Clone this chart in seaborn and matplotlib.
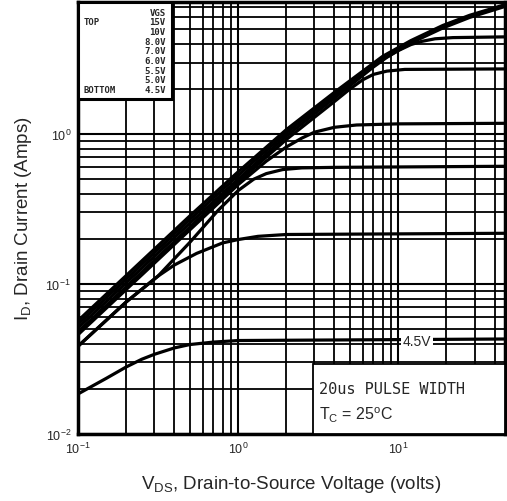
import matplotlib
matplotlib.use('Agg')
import matplotlib.pyplot as plt
import matplotlib.ticker as mticker
from matplotlib.patches import Rectangle
import seaborn as sns

# VGS curves (x = VDS volts, y = ID amps)
vgs_labels = ['15V', '10V', '8.0V', '7.0V', '6.0V', '5.5V', '5.0V', '4.5V']

vds_15 = [0.1, 0.2, 0.5, 1.0, 2.0, 4.0, 8.0, 12.0, 19.0, 28.0, 46.5]
id_15 = [0.057, 0.114, 0.285, 0.56, 1.07, 1.9, 3.3, 4.2, 5.3, 6.2, 7.3]

vds_10 = [0.1, 0.2, 0.5, 1.0, 2.0, 4.0, 8.0, 12.0, 19.0, 28.0, 46.5]
id_10 = [0.054, 0.108, 0.27, 0.53, 1.02, 1.82, 3.15, 4.05, 5.1, 6.0, 7.1]

vds_8 = [0.1, 0.2, 0.5, 1.0, 2.0, 4.0, 7.0, 8.5, 10.0, 12.0, 14.0, 17.0, 22.0, 46.5]
id_8 = [0.051, 0.102, 0.255, 0.5, 0.97, 1.74, 2.8, 3.25, 3.6, 3.95, 4.15, 4.32, 4.4, 4.45]

vds_7 = [0.1, 0.2, 0.5, 1.0, 2.0, 4.0, 5.0, 6.0, 7.0, 8.5, 11.0, 46.5]
id_7 = [0.048, 0.096, 0.24, 0.48, 0.92, 1.65, 2.0, 2.3, 2.5, 2.63, 2.7, 2.72]

vds_6 = [0.1, 0.2, 0.5, 1.0, 1.5, 2.0, 2.5, 3.0, 4.0, 5.5, 10.0, 46.5]
id_6 = [0.046, 0.092, 0.23, 0.46, 0.66, 0.82, 0.94, 1.03, 1.11, 1.15, 1.17, 1.18]

vds_55 = [0.1, 0.2, 0.316, 0.5, 0.75, 1.0, 1.25, 1.5, 1.9, 2.5, 4.0, 46.5]
id_55 = [0.0385, 0.076, 0.113, 0.19, 0.31, 0.42, 0.5, 0.545, 0.58, 0.595, 0.6, 0.61]

vds_5 = [0.1, 0.2, 0.316, 0.4, 0.55, 0.8, 1.0, 1.33, 2.0, 46.5]
id_5 = [0.0385, 0.076, 0.113, 0.134, 0.16, 0.188, 0.198, 0.208, 0.214, 0.218]

vds_45 = [0.1, 0.15, 0.2, 0.25, 0.3, 0.4, 0.5, 0.7, 1.0, 46.5]
id_45 = [0.0185, 0.0235, 0.028, 0.0315, 0.034, 0.0375, 0.0395, 0.041, 0.042, 0.043]

curves = [(vds_15, id_15), (vds_10, id_10), (vds_8, id_8), (vds_7, id_7),
          (vds_6, id_6), (vds_55, id_55), (vds_5, id_5), (vds_45, id_45)]

sns.set_style('white')
plt.rcParams['font.family'] = ['Liberation Sans', 'DejaVu Sans']
plt.rcParams['mathtext.fontset'] = 'dejavusans'

fig = plt.figure(figsize=(5.07, 5.02), dpi=100)
ax = fig.add_axes([0.154, 0.1335, 0.842, 0.8605])

for vds, ids in curves:
    sns.lineplot(x=vds, y=ids, ax=ax, color='black', linewidth=2.3,
                 estimator=None, sort=False)

ax.set_xscale('log')
ax.set_yscale('log')
ax.set_xlim(0.1, 46.5)
ax.set_ylim(0.01, 7.6)

ax.xaxis.set_major_locator(mticker.LogLocator(base=10))
ax.yaxis.set_major_locator(mticker.LogLocator(base=10))
ax.xaxis.set_minor_locator(mticker.LogLocator(base=10, subs=range(2, 10)))
ax.yaxis.set_minor_locator(mticker.LogLocator(base=10, subs=range(2, 10)))
ax.xaxis.set_minor_formatter(mticker.NullFormatter())
ax.yaxis.set_minor_formatter(mticker.NullFormatter())
ax.tick_params(which='both', length=0, labelsize=9, pad=5)

ax.grid(True, which='major', color='black', linewidth=1.5)
ax.grid(True, which='minor', color='black', linewidth=1.3)
for sp in ax.spines.values():
    sp.set_linewidth(2.5)
    sp.set_color('black')

ax.set_xlabel(r'V$_{\mathregular{DS}}$, Drain-to-Source Voltage (volts)', fontsize=13.5, labelpad=12)
ax.set_ylabel(r'I$_{\mathregular{D}}$, Drain Current (Amps)', fontsize=13.5, labelpad=8)

# VGS legend box in the top-left corner
ax.add_patch(Rectangle((0.0, 0.775), 0.22, 0.225, transform=ax.transAxes,
                       facecolor='white', edgecolor='black', linewidth=2.2, zorder=5))
mono = dict(family='DejaVu Sans Mono', fontsize=6.5, fontweight='bold', zorder=6,
            transform=ax.transAxes)
y0 = (435 - 13) / 432
step = 9.7 / 432
ax.text(0.205, y0, 'VGS', ha='right', va='center', **mono)
for i, lab in enumerate(vgs_labels):
    ax.text(0.205, y0 - (i + 1) * step, lab, ha='right', va='center', **mono)
ax.text(0.012, y0 - step, 'TOP', ha='left', va='center', **mono)
ax.text(0.012, y0 - len(vgs_labels) * step, 'BOTTOM', ha='left', va='center', **mono)

# 4.5V curve label
ax.text(10.7, 0.042, '4.5V', fontsize=10, ha='left', va='center', zorder=6,
        bbox=dict(facecolor='white', edgecolor='none', pad=1))

# pulse width / temperature box
ax.add_patch(Rectangle((0.55, 0.0), 0.45, 0.162, transform=ax.transAxes,
                       facecolor='white', edgecolor='black', linewidth=1.3, zorder=5))
ax.text(0.565, 0.105, '20us PULSE WIDTH', family='DejaVu Sans Mono', fontsize=11,
        ha='left', va='center', transform=ax.transAxes, zorder=6)
ax.text(0.565, 0.045, r'T$_\mathregular{C}$ = 25$^\mathregular{o}$C', fontsize=11.5,
        ha='left', va='center', transform=ax.transAxes, zorder=6)

fig.savefig('out.png', dpi=100)
plt.close(fig)
